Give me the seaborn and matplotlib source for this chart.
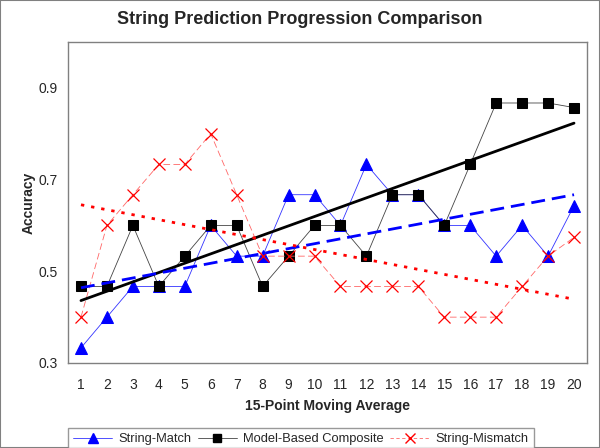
import numpy as np
import pandas as pd
import matplotlib.pyplot as plt
import seaborn as sns
from matplotlib.lines import Line2D

# Data
steps = list(range(1, 21))
string_match = [0.333, 0.400, 0.467, 0.467, 0.467, 0.600, 0.533, 0.533, 0.667, 0.667,
                0.600, 0.733, 0.667, 0.667, 0.600, 0.600, 0.533, 0.600, 0.533, 0.643]
model_based = [0.467, 0.467, 0.600, 0.467, 0.533, 0.600, 0.600, 0.467, 0.533, 0.600,
               0.600, 0.533, 0.667, 0.667, 0.600, 0.733, 0.867, 0.867, 0.867, 0.857]
string_mismatch = [0.400, 0.600, 0.667, 0.733, 0.733, 0.800, 0.667, 0.533, 0.533, 0.533,
                   0.467, 0.467, 0.467, 0.467, 0.400, 0.400, 0.400, 0.467, 0.533, 0.574]

df = pd.DataFrame({'step': steps, 'String-Match': string_match,
                   'Model-Based Composite': model_based,
                   'String-Mismatch': string_mismatch})

sns.set_style('white')
plt.rcParams['font.family'] = ['Liberation Sans', 'DejaVu Sans']

fig = plt.figure(figsize=(6, 4.48), dpi=100)
ax = fig.add_axes([68 / 600, 1 - 363 / 448, 519 / 600, 321 / 448])

# series lines with markers
sns.lineplot(data=df, x='step', y='String-Match', ax=ax, color='#3333ff', lw=0.6,
             marker='^', markersize=9, markerfacecolor='#0000ff',
             markeredgecolor='#0000ff', zorder=3)
sns.lineplot(data=df, x='step', y='Model-Based Composite', ax=ax, color='#444444', lw=0.6,
             marker='s', markersize=7.5, markerfacecolor='black',
             markeredgecolor='black', zorder=3)
sns.lineplot(data=df, x='step', y='String-Mismatch', ax=ax, color='#ff6666', lw=0.6,
             linestyle=(0, (8, 4)), marker='x', markersize=9, markeredgewidth=0.9,
             markeredgecolor='#ff0000', zorder=3)

# linear trendlines
x = np.array(steps)
for col, c, ls in [('Model-Based Composite', 'black', '-'),
                   ('String-Match', '#0000ff', (0, (5, 2.5))),
                   ('String-Mismatch', '#ff0000', (0, (1.2, 2.5)))]:
    k, b = np.polyfit(x, df[col], 1)
    ax.plot(x, k * x + b, color=c, lw=2, linestyle=ls, zorder=4)

ax.set_xlim(0.5, 20.5)
ax.set_ylim(0.3, 1.0)
ax.set_xticks(steps)
ax.set_xticks(np.arange(0.5, 21, 1), minor=True)
ax.tick_params(axis='x', which='major', length=0, labelsize=10, pad=11)
ax.tick_params(axis='x', which='minor', length=4, color='#808080', direction='out')
ax.set_yticks([0.3, 0.5, 0.7, 0.9])
ax.set_yticklabels(['0.3', '0.5', '0.7', '0.9'])
ax.tick_params(axis='y', length=4, color='#808080', direction='out', labelsize=10)
for s in ax.spines.values():
    s.set_color('#808080')
    s.set_linewidth(1)

ax.set_xlabel('15-Point Moving Average', fontsize=10, fontweight='bold', labelpad=5)
ax.set_ylabel('Accuracy', fontsize=10, fontweight='bold')
ax.yaxis.set_label_coords(-0.062, 0.5)
fig.text(0.5, 1 - 19 / 448, 'String Prediction Progression Comparison',
         ha='center', va='center', fontsize=13, fontweight='bold')

handles = [
    Line2D([], [], color='#3333ff', lw=0.6, marker='^', markersize=6.5,
           markerfacecolor='#0000ff', markeredgecolor='#0000ff'),
    Line2D([], [], color='#444444', lw=0.6, marker='s', markersize=5.5,
           markerfacecolor='black', markeredgecolor='black'),
    Line2D([], [], color='#ff6666', lw=0.6, linestyle=(0, (4, 3)), marker='x',
           markersize=6.5, markeredgecolor='#ff0000'),
]
leg = fig.legend(handles, ['String-Match', 'Model-Based Composite', 'String-Mismatch'],
                 loc='lower left', bbox_to_anchor=(68 / 600, -0.005), ncol=3,
                 fontsize=9.3, frameon=True, fancybox=False, handlelength=3,
                 columnspacing=0.5, handletextpad=0.5, borderpad=0.4,
                 borderaxespad=0)
leg.get_frame().set_edgecolor('#808080')
leg.get_frame().set_linewidth(1)

# outer chart border
fig.patches.append(plt.Rectangle((0, 0), 1, 1, transform=fig.transFigure, fill=False,
                                 edgecolor='#808080', lw=1.5))

fig.savefig('out.png', dpi=100)
